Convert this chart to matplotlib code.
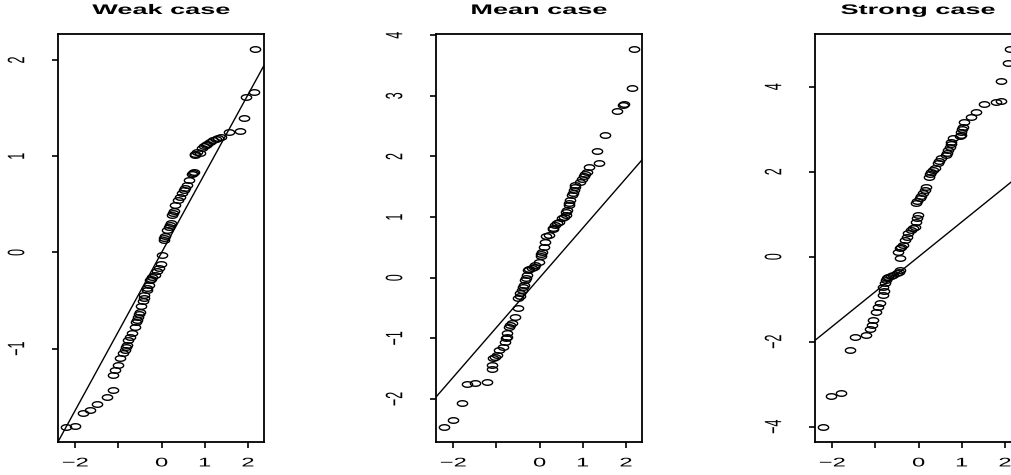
import numpy as np
import matplotlib
matplotlib.use("Agg")
import matplotlib.pyplot as plt
from matplotlib.path import Path
from matplotlib.patheffects import AbstractPathEffect
from matplotlib.transforms import Affine2D

#=================
# 1. DATA
#=================
titles = ["Weak case", "Mean case", "Strong case"]

weak_x = [-2.21, -2.01, -1.82, -1.65, -1.50, -1.27, -1.13, -1.12, -1.07, -1.02,
          -0.97, -0.85, -0.81, -0.79, -0.74, -0.69, -0.62, -0.59, -0.55, -0.50,
          -0.47, -0.44, -0.41, -0.35, -0.30, -0.27, -0.22, -0.16, -0.10, -0.06,
          -0.01, 0.01, 0.05, 0.08, 0.13, 0.20, 0.24, 0.28, 0.31, 0.37,
          0.43, 0.51, 0.59, 0.64, 0.70, 0.74, 0.78, 0.83, 0.93, 0.99,
          1.05, 1.13, 1.20, 1.31, 1.38, 1.55, 1.81, 1.90, 1.96, 2.13, 2.17,
          # overlapping circles in the dense runs
          0.78, 0.88, 0.72, 0.22, 0.26, 0.16, 0.46, 0.55, 0.06, -0.33,
          -0.25, -0.42, -0.52, -0.57, -0.82, -0.90, 1.02, 1.25]
weak_y = [-1.81, -1.80, -1.67, -1.64, -1.57, -1.50, -1.43, -1.27, -1.22, -1.17,
          -1.10, -1.01, -0.96, -0.91, -0.88, -0.84, -0.77, -0.72, -0.67, -0.62,
          -0.56, -0.50, -0.44, -0.39, -0.34, -0.29, -0.26, -0.23, -0.19, -0.16,
          -0.12, -0.03, 0.13, 0.17, 0.23, 0.29, 0.39, 0.43, 0.49, 0.54,
          0.58, 0.65, 0.70, 0.75, 0.82, 0.84, 1.01, 1.04, 1.09, 1.11,
          1.13, 1.15, 1.17, 1.19, 1.20, 1.25, 1.26, 1.40, 1.62, 1.67, 2.11,
          1.02, 1.03, 0.83, 0.31, 0.41, 0.26, 0.62, 0.67, 0.15, -0.37,
          -0.28, -0.47, -0.64, -0.70, -0.98, -1.04, 1.12, 1.18]

mean_x = [-2.21, -2.00, -1.80, -1.68, -1.49, -1.22, -1.10, -1.10, -1.07, -0.99,
          -0.93, -0.85, -0.80, -0.76, -0.76, -0.72, -0.64, -0.56, -0.49, -0.49,
          -0.45, -0.41, -0.37, -0.33, -0.29, -0.26, -0.18, -0.10, -0.02, 0.02,
          0.06, 0.09, 0.12, 0.15, 0.21, 0.32, 0.36, 0.44, 0.52, 0.60,
          0.64, 0.67, 0.71, 0.75, 0.79, 0.83, 0.94, 1.02, 1.10, 1.14,
          1.37, 1.33, 1.52, 1.80, 1.93, 1.96, 2.14, 2.18,
          -0.45, -0.39, -0.31, -0.24, -0.14, 0.04, 0.30, 0.40, 0.56, 0.62,
          0.69, 0.77, 0.81, 0.98, 1.06, -0.78, -0.68, -1.03]
mean_y = [-2.46, -2.34, -2.07, -1.75, -1.74, -1.72, -1.50, -1.44, -1.33, -1.28,
          -1.19, -1.14, -1.06, -0.97, -0.92, -0.81, -0.75, -0.64, -0.50, -0.34,
          -0.26, -0.20, -0.12, -0.04, 0.04, 0.12, 0.16, 0.21, 0.26, 0.35,
          0.43, 0.51, 0.59, 0.68, 0.70, 0.82, 0.87, 0.92, 0.98, 1.03,
          1.12, 1.20, 1.28, 1.36, 1.45, 1.53, 1.58, 1.67, 1.75, 1.83,
          1.89, 2.09, 2.35, 2.75, 2.85, 2.87, 3.13, 3.77,
          -0.30, -0.16, 0.00, 0.14, 0.18, 0.39, 0.80, 0.90, 1.00, 1.08,
          1.24, 1.40, 1.49, 1.62, 1.71, -1.00, -0.78, -1.30]

strong_x = [-2.21, -2.02, -1.79, -1.59, -1.48, -1.21, -1.13, -1.09, -1.05, -0.98,
            -0.94, -0.90, -0.82, -0.82, -0.78, -0.75, -0.71, -0.59, -0.51, -0.44,
            -0.44, -0.48, -0.44, -0.36, -0.32, -0.24, -0.17, -0.09, -0.05, -0.01,
            -0.05, 0.02, 0.10, 0.18, 0.25, 0.29, 0.37, 0.45, 0.52, 0.64,
            0.68, 0.72, 0.76, 0.79, 0.99, 0.99, 1.03, 1.06, 1.22, 1.33,
            1.52, 1.79, 1.91, 1.91, 2.07, 2.12,
            -0.80, -0.73, -0.65, -0.46, -0.40, -0.28, -0.13, -0.03, -0.03, 0.06,
            0.14, 0.27, 0.33, 0.48, 0.66, 0.74, 0.95, 1.01]
strong_y = [-4.00, -3.27, -3.21, -2.20, -1.90, -1.84, -1.69, -1.61, -1.49, -1.29,
            -1.18, -1.10, -0.90, -0.71, -0.63, -0.55, -0.47, -0.43, -0.39, -0.31,
            -0.04, 0.12, 0.20, 0.28, 0.39, 0.55, 0.63, 0.71, 0.82, 0.98,
            1.26, 1.37, 1.49, 1.65, 1.88, 2.00, 2.08, 2.20, 2.32, 2.39,
            2.51, 2.59, 2.71, 2.79, 2.86, 2.94, 3.06, 3.18, 3.29, 3.41,
            3.59, 3.65, 3.67, 4.14, 4.55, 4.88,
            -0.80, -0.51, -0.45, -0.35, 0.24, 0.47, 0.67, 0.90, 1.30, 1.43,
            1.57, 1.94, 2.04, 2.26, 2.45, 2.65, 2.84, 3.00]

ref_slope = 0.82

x_ticks = [-2, -1, 0, 1, 2]
x_labels = ["\u22122", "", "0", "1", "2"]
y_ticks = [[-1, 0, 1, 2], [-2, -1, 0, 1, 2, 3, 4], [-4, -2, 0, 2, 4]]

panels = [(weak_x, weak_y), (mean_x, mean_y), (strong_x, strong_y)]
ylims = [(-1.97, 2.27), (-2.71, 4.02), (-4.36, 5.24)]
lefts = [58, 436, 815]

#=================
# 2. STYLE HELPERS
#=================
STRETCH = 1.9  # the source image was squashed wide


class Widen(AbstractPathEffect):
    """Stretch text sideways about its own centre."""
    def __init__(self, sx):
        super().__init__()
        self.sx = sx

    def draw_path(self, renderer, gc, tpath, affine, rgbFace=None):
        bb = tpath.get_extents(affine)
        cx = 0.5 * (bb.x0 + bb.x1)
        t = affine + Affine2D().translate(-cx, 0).scale(self.sx, 1).translate(cx, 0)
        renderer.draw_path(gc, tpath, t, rgbFace)


th = np.linspace(0, 2 * np.pi, 60)
oval = Path(np.column_stack([1.85 * np.cos(th), np.sin(th)]), closed=True)

plt.rcParams['font.family'] = 'Liberation Sans'

#=================
# 3. PLOT
#=================
W, H = 1012, 475
fig = plt.figure(figsize=(W / 100, H / 100), dpi=100)

for i, (xs, ys) in enumerate(panels):
    ax = fig.add_axes([lefts[i] / W, (H - 442) / H, 206 / W, 408 / H])
    ax.plot(xs, ys, linestyle='none', marker=oval, markersize=7.4,
            markerfacecolor='none', markeredgecolor='black', markeredgewidth=1.0)
    ax.axline((0, 0), slope=ref_slope, color='black', lw=1.0)
    ax.set_xlim(-2.40, 2.37)
    ax.set_ylim(*ylims[i])

    ax.set_xticks(x_ticks)
    ax.set_xticklabels(x_labels, fontsize=9, path_effects=[Widen(STRETCH)])
    ax.set_yticks(y_ticks[i])
    ax.set_yticklabels([str(v).replace('-', '\u2212') for v in y_ticks[i]],
                       fontsize=9, rotation=90, ha='center', va='center',
                       path_effects=[Widen(STRETCH)])
    ax.tick_params(axis='x', length=4.3, width=1.2, pad=6.8)
    ax.tick_params(axis='y', length=4.3, width=1.2, pad=25)
    for s in ax.spines.values():
        s.set_linewidth(1.3)

    ax.set_title(titles[i], fontsize=10, fontweight='bold', pad=14.4,
                 path_effects=[Widen(1.95)])

fig.savefig("out.png", dpi=100)
